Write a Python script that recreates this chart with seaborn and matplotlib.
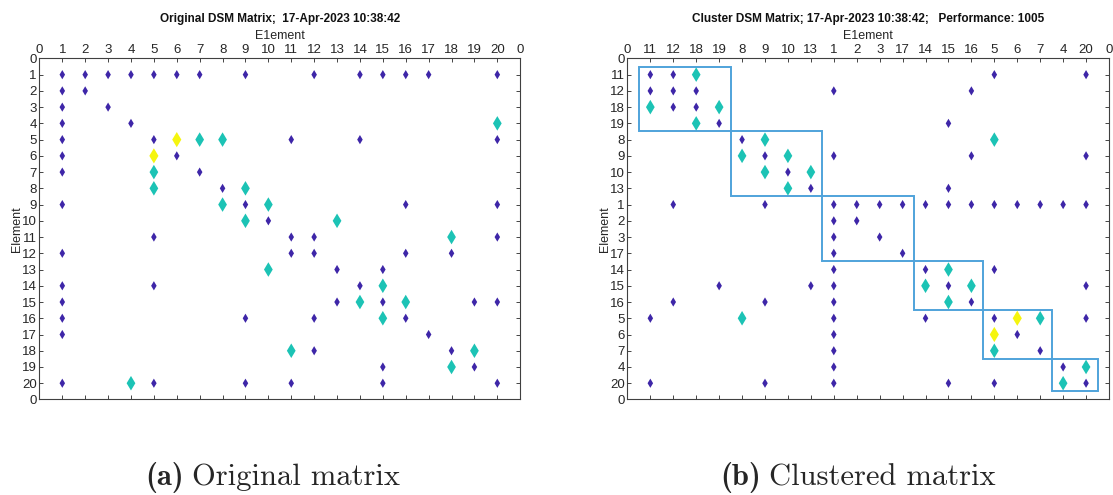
import matplotlib
matplotlib.use("Agg")
import numpy as np
import pandas as pd
import seaborn as sns
import matplotlib.pyplot as plt
from matplotlib.patches import Rectangle

# ---------------- data ----------------
elements = list(range(1, 21))
# links of weight 1 (purple): row -> columns
links_w1 = {
    1: [1, 2, 3, 4, 5, 6, 7, 9, 12, 14, 15, 16, 17, 20],
    2: [1, 2], 3: [1, 3], 4: [1, 4], 5: [1, 5, 11, 14, 20], 6: [1, 6],
    7: [1, 7], 8: [8], 9: [1, 9, 16, 20], 10: [10], 11: [5, 11, 12, 20],
    12: [1, 11, 12, 16, 18], 13: [13, 15], 14: [1, 5, 14],
    15: [1, 13, 15, 19, 20], 16: [1, 9, 12, 16], 17: [1, 17], 18: [12, 18],
    19: [15, 19], 20: [1, 5, 9, 11, 15, 20],
}
# links of weight 2 (cyan)
links_w2 = {
    4: [20], 5: [7, 8], 7: [5], 8: [5, 9], 9: [8, 10], 10: [9, 13],
    11: [18], 13: [10], 14: [15], 15: [14, 16], 16: [15], 18: [11, 19],
    19: [18], 20: [4],
}
# links of weight 3 (yellow)
links_w3 = {5: [6], 6: [5]}

cluster_order = [11, 12, 18, 19, 8, 9, 10, 13, 1, 2, 3, 17, 14, 15, 16, 5, 6, 7, 4, 20]
cluster_sizes = [4, 4, 4, 3, 3, 2]

title_orig = "Original DSM Matrix;  17-Apr-2023 10:38:42"
title_clust = "Cluster DSM Matrix; 17-Apr-2023 10:38:42;   Performance: 1005"
caption_a = ("(a)", "Original matrix")
caption_b = ("(b)", "Clustered matrix")

# ---------------- build tables ----------------
recs = []
for w, d in ((1, links_w1), (2, links_w2), (3, links_w3)):
    for r, cs in d.items():
        for c in cs:
            recs.append((r, c, w))
df = pd.DataFrame(recs, columns=["row", "col", "w"])
pos = {e: i + 1 for i, e in enumerate(cluster_order)}
df["crow"] = df["row"].map(pos)
df["ccol"] = df["col"].map(pos)

palette = {1: "#3E26A8", 2: "#1CC3B5", 3: "#F5F50F"}
sizes = {1: 22, 2: 55, 3: 60}

sns.set_theme(style="white")
plt.rcParams["font.family"] = ["Liberation Sans", "DejaVu Sans"]

fig = plt.figure(figsize=(11.13, 4.95), dpi=100)
ax1 = fig.add_axes([0.0354, 0.193, 0.432, 0.689])
ax2 = fig.add_axes([0.5637, 0.193, 0.4327, 0.689])

def style(ax, labels, title):
    ax.set_xlim(0, 21)
    ax.set_ylim(21, 0)
    ax.set_xticks(range(22))
    ax.set_yticks(range(22))
    ax.set_xticklabels(labels)
    ax.set_yticklabels(labels)
    ax.tick_params(direction="in", length=3, width=0.6, colors="#262626",
                   top=True, bottom=True, left=True, right=True,
                   labeltop=True, labelbottom=False, labelsize=9.5, pad=2,
                   labelcolor="#262626")
    for s in ax.spines.values():
        s.set_color("#404040")
        s.set_linewidth(0.8)
    ax.xaxis.set_label_position("top")
    ax.set_xlabel("E1ement", fontsize=9, color="#262626", labelpad=3)
    ax.set_ylabel("Element", fontsize=9, color="#262626", labelpad=-1)
    ax.set_title(title, fontsize=8.5, fontweight="bold", pad=6, color="#111111")
    ax.grid(False)

sns.scatterplot(data=df, x="col", y="row", hue="w", size="w", palette=palette,
                sizes=sizes, marker="d", linewidth=0, ax=ax1, legend=False, zorder=3)
sns.scatterplot(data=df, x="ccol", y="crow", hue="w", size="w", palette=palette,
                sizes=sizes, marker="d", linewidth=0, ax=ax2, legend=False, zorder=3)

style(ax1, ["0"] + [str(e) for e in elements] + ["0"], title_orig)
style(ax2, ["0"] + [str(e) for e in cluster_order] + ["0"], title_clust)

start = 0.5
for n in cluster_sizes:
    ax2.add_patch(Rectangle((start, start), n, n, fill=False,
                            edgecolor="#4FA3DB", linewidth=1.4, zorder=2))
    start += n

renderer = fig.canvas.get_renderer()
for x0, (b, t) in ((0.1303, caption_a), (0.647, caption_b)):
    tb = fig.text(x0, 0.02, b, family="cmb10", fontsize=22, ha="left", va="baseline")
    ext = tb.get_window_extent(renderer=renderer)
    x1 = (ext.x1 + 8) / fig.bbox.width
    fig.text(x1, 0.02, t, family="cmr10", fontsize=22, ha="left", va="baseline")

fig.savefig("out.png", dpi=100)
